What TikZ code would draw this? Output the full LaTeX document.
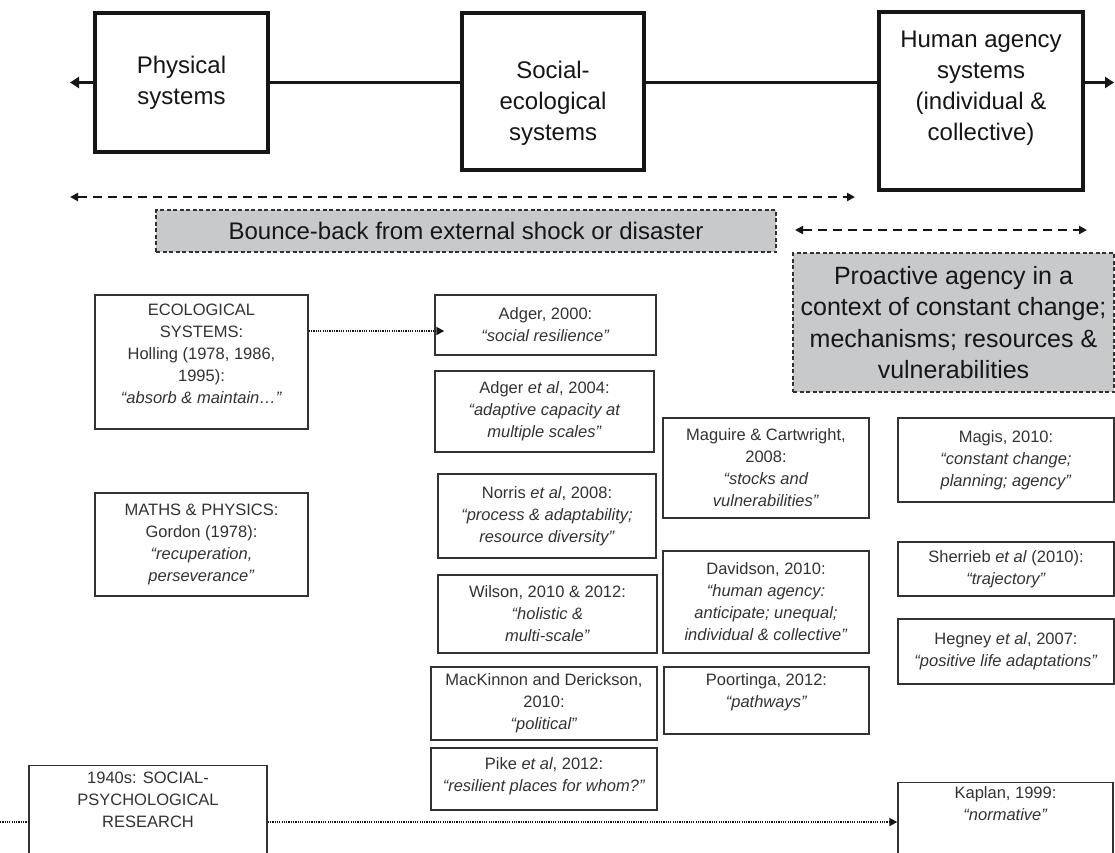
\documentclass[tikz,border=0pt]{standalone}
\usepackage{fontspec}
\setmainfont{Liberation Sans}
\usetikzlibrary{arrows.meta,positioning}
\definecolor{shadegrey}{RGB}{200,201,203}
\definecolor{inkgrey}{RGB}{50,50,50}
\definecolor{lineblack}{RGB}{22,22,22}

\begin{document}
\begin{tikzpicture}[x=1pt, y=-1pt,
  sysbox/.style={rectangle, draw=lineblack, line width=3.2pt, align=center, font=\fontsize{24}{31}\selectfont, text=lineblack},
  refbox/.style={rectangle, draw=inkgrey, line width=1.4pt, align=center, inner sep=4pt, font=\fontsize{16.5}{22}\selectfont, text=inkgrey},
  greybox/.style={rectangle, draw=inkgrey, fill=shadegrey, line width=1.1pt, dash pattern=on 4pt off 2.5pt, align=center, text=lineblack},
  arr/.style={-{Triangle[length=9pt, width=11pt]}, line width=2.6pt, draw=lineblack},
  dasharr/.style={{Triangle[length=8pt, width=8pt]}-{Triangle[length=8pt, width=8pt]}, line width=2.4pt, dash pattern=on 9pt off 6pt, draw=lineblack},
  dotline/.style={line width=1.8pt, dash pattern=on 1.2pt off 1.1pt, draw=lineblack},
  dotarr/.style={dotline, -{Triangle[length=8pt, width=8pt]}}
]
\useasboundingbox (0,0) rectangle (1115,852);
\clip (0,0) rectangle (1115,852);

% systems row
\node[sysbox, minimum width=173pt, minimum height=139pt] (phys) at (181.5,82.5) {Physical\\systems};
\node[sysbox, minimum width=182pt, minimum height=157pt] (soc) at (553,91.5) {\rule{0pt}{40pt}Social-\\ecological\\systems};
\node[sysbox, minimum width=204pt, minimum height=178pt] (hum) at (981,101) {Human agency\\systems\\(individual \&\\collective)\rule[-31pt]{0pt}{0pt}};
\coordinate (ltip) at (70,82.5);
\coordinate (rtip) at (1114,82.5);

\draw[arr] (phys.west) -- (ltip);
\draw[line width=2.6pt, lineblack] (phys.east) -- (phys.east -| soc.west);
\draw[line width=2.6pt, lineblack] (phys.east -| soc.east) -- (phys.east -| hum.west);
\draw[arr] (phys.east -| hum.east) -- (rtip);

% ranges
\coordinate (bbL) at (70,197);
\coordinate (bbR) at (855,197);
\coordinate (paL) at (795,230);
\coordinate (paR) at (1087,230);
\draw[dasharr] (bbL) -- (bbR);
\draw[dasharr] (paL) -- (paR);

\node[greybox, minimum width=620pt, minimum height=42pt, font=\fontsize{24}{31}\selectfont] (bounce) at (466,231) {Bounce-back from external shock or disaster};
\node[greybox, minimum width=321pt, minimum height=139pt, font=\fontsize{25}{31.5}\selectfont] (proact) at (953.5,322.5) {Proactive agency in a\\context of constant change;\\mechanisms; resources \&\\vulnerabilities};

% left column
\node[refbox, minimum width=213pt, minimum height=134pt] (eco) at (201.5,362) {ECOLOGICAL\\SYSTEMS:\\Holling (1978, 1986,\\1995):\\\textit{“absorb \& maintain…”}\rule[-17pt]{0pt}{0pt}};
\node[refbox, minimum width=213pt, minimum height=103pt] (math) at (201.5,544.5) {MATHS \& PHYSICS:\\Gordon (1978):\\\textit{“recuperation,}\\\textit{perseverance”}};
\node[refbox, minimum width=238pt, anchor=north, inner ysep=6pt] (psy) at (148,765) {1940s: SOCIAL-\\PSYCHOLOGICAL\\RESEARCH\rule[-90pt]{0pt}{0pt}};

% second column
\node[refbox, minimum width=221pt, minimum height=60pt] (adg00) at (545.5,325) {Adger, 2000:\\\textit{“social resilience”}};
\node[refbox, minimum width=219pt, minimum height=81pt] (adg04) at (544.5,411.5) {Adger \textit{et al}, 2004:\\\textit{“adaptive capacity at}\\\textit{multiple scales”}};
\node[refbox, minimum width=218pt, minimum height=84pt] (nor) at (547,516) {Norris \textit{et al}, 2008:\\\textit{“process \& adaptability;}\\\textit{resource diversity”}};
\node[refbox, minimum width=219pt, minimum height=78pt] (wil) at (547.5,614) {Wilson, 2010 \& 2012:\\\textit{“holistic \&}\\\textit{multi-scale”}};
\node[refbox, minimum width=226pt, minimum height=73pt] (mac) at (544,703.5) {MacKinnon and Derickson,\\2010:\\\textit{“political”}};
\node[refbox, minimum width=226pt, minimum height=62pt] (pike) at (544,779) {Pike \textit{et al}, 2012:\\\textit{“resilient places for whom?”}\rule[-8pt]{0pt}{0pt}};

% third column
\node[refbox, minimum width=206pt, minimum height=100pt] (mag) at (766,468) {Maguire \& Cartwright,\\2008:\\\textit{“stocks and}\\\textit{vulnerabilities”}};
\node[refbox, minimum width=206pt, minimum height=102pt] (dav) at (766,602) {Davidson, 2010:\\\textit{“human agency:}\\\textit{anticipate; unequal;}\\\textit{individual \& collective”}};
\node[refbox, minimum width=205pt, minimum height=67pt] (poo) at (766.5,700.5) {Poortinga, 2012:\\\textit{“pathways”}\rule[-20pt]{0pt}{0pt}};

% right column
\node[refbox, minimum width=216pt, minimum height=84pt] (magis) at (1006,460) {Magis, 2010:\\\textit{“constant change;}\\\textit{planning; agency”}};
\node[refbox, minimum width=216pt, minimum height=54pt] (she) at (1006,569) {Sherrieb \textit{et al} (2010):\\\textit{“trajectory”}};
\node[refbox, minimum width=216pt, minimum height=65pt] (heg) at (1006,651.5) {Hegney \textit{et al}, 2007:\\\textit{“positive life adaptations”}};
\node[refbox, minimum width=215pt, anchor=north] (kap) at (1005.5,782) {Kaplan, 1999:\\\textit{“normative”}\rule[-90pt]{0pt}{0pt}};

% dotted links
\path ([yshift=-6pt]adg00.west) coordinate (adgin);
\draw[dotarr] (adgin -| eco.east) -- ([xshift=10pt]adgin);
\coordinate (stub) at (0,822);
\draw[dotline] (stub) -- (stub -| psy.west);
\draw[dotarr] (stub -| psy.east) -- (stub -| kap.west);
\end{tikzpicture}
\end{document}
